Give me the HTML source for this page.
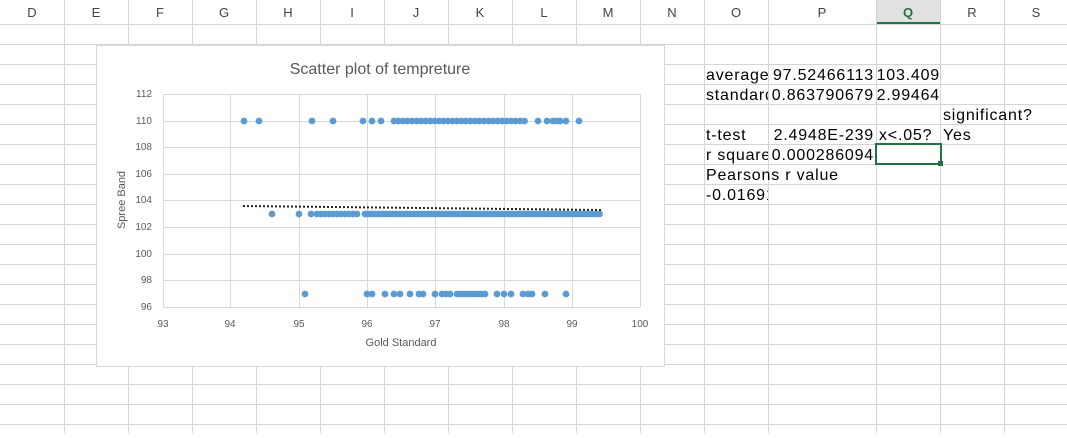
<!DOCTYPE html>
<html><head><meta charset="utf-8"><style>
body{margin:0;background:#fff;width:1067px;height:433px;overflow:hidden;font-family:"Liberation Sans",Arial,sans-serif}
</style></head><body>
<svg width="1067" height="433" xmlns="http://www.w3.org/2000/svg" font-family="Liberation Sans, Arial, sans-serif">
<rect width="1067" height="433" fill="#fff"/>
<rect x="876" y="0" width="65" height="24" fill="#e1e1e1"/>
<line x1="876" y1="23" x2="941" y2="23" stroke="#217346" stroke-width="2"/>
<g stroke="#d4d4d4" stroke-width="1">
<line x1="0" y1="24.5" x2="1067" y2="24.5"/>
<line x1="0" y1="44.5" x2="1067" y2="44.5"/><line x1="0" y1="64.5" x2="1067" y2="64.5"/>
<line x1="0" y1="84.5" x2="1067" y2="84.5"/><line x1="0" y1="104.5" x2="1067" y2="104.5"/>
<line x1="0" y1="124.5" x2="1067" y2="124.5"/><line x1="0" y1="144.5" x2="1067" y2="144.5"/>
<line x1="0" y1="164.5" x2="1067" y2="164.5"/><line x1="0" y1="184.5" x2="1067" y2="184.5"/>
<line x1="0" y1="204.5" x2="1067" y2="204.5"/><line x1="0" y1="224.5" x2="1067" y2="224.5"/>
<line x1="0" y1="244.5" x2="1067" y2="244.5"/><line x1="0" y1="264.5" x2="1067" y2="264.5"/>
<line x1="0" y1="284.5" x2="1067" y2="284.5"/><line x1="0" y1="304.5" x2="1067" y2="304.5"/>
<line x1="0" y1="324.5" x2="1067" y2="324.5"/><line x1="0" y1="344.5" x2="1067" y2="344.5"/>
<line x1="0" y1="364.5" x2="1067" y2="364.5"/><line x1="0" y1="384.5" x2="1067" y2="384.5"/>
<line x1="0" y1="404.5" x2="1067" y2="404.5"/><line x1="0" y1="424.5" x2="1067" y2="424.5"/>
<line x1="64.5" y1="0" x2="64.5" y2="433"/><line x1="128.5" y1="0" x2="128.5" y2="433"/>
<line x1="192.5" y1="0" x2="192.5" y2="433"/><line x1="256.5" y1="0" x2="256.5" y2="433"/>
<line x1="320.5" y1="0" x2="320.5" y2="433"/><line x1="384.5" y1="0" x2="384.5" y2="433"/>
<line x1="448.5" y1="0" x2="448.5" y2="433"/><line x1="512.5" y1="0" x2="512.5" y2="433"/>
<line x1="576.5" y1="0" x2="576.5" y2="433"/><line x1="640.5" y1="0" x2="640.5" y2="433"/>
<line x1="704.5" y1="0" x2="704.5" y2="433"/><line x1="768.5" y1="0" x2="768.5" y2="433"/>
<line x1="876.5" y1="0" x2="876.5" y2="433"/><line x1="940.5" y1="0" x2="940.5" y2="433"/>
<line x1="1004.5" y1="0" x2="1004.5" y2="433"/>
</g>
<g font-size="13" fill="#444" text-anchor="middle">
<text x="32" y="17">D</text><text x="96" y="17">E</text><text x="160" y="17">F</text><text x="224" y="17">G</text>
<text x="288" y="17">H</text><text x="352" y="17">I</text><text x="416" y="17">J</text><text x="480" y="17">K</text>
<text x="544" y="17">L</text><text x="608" y="17">M</text><text x="672" y="17">N</text><text x="736" y="17">O</text>
<text x="822" y="17">P</text><text x="908" y="17" fill="#217346" font-weight="bold">Q</text><text x="972" y="17">R</text><text x="1036" y="17">S</text>
</g>
<g font-size="16" fill="#000" letter-spacing="0.8">
<svg x="706" y="64" width="62" height="20"><text x="0" y="16">averages</text></svg>
<svg x="706" y="84" width="62" height="20"><text x="0" y="16">standard</text></svg>
<svg x="706" y="144" width="62" height="20"><text x="0" y="16">r squared</text></svg>
<text x="874" y="80" text-anchor="end">97.52466113</text>
<text x="940" y="80" text-anchor="end">103.409</text>
<text x="874" y="100" text-anchor="end">0.863790679</text>
<text x="940" y="100" text-anchor="end">2.99464</text>
<text x="943" y="120">significant?</text>
<text x="706" y="140">t-test</text>
<text x="874" y="140" text-anchor="end">2.4948E-239</text>
<text x="879" y="140">x&lt;.05?</text>
<text x="943" y="140">Yes</text>
<text x="874" y="160" text-anchor="end">0.000286094</text>
<text x="706" y="180">Pearsons r value</text>
<svg x="704" y="184" width="64" height="20"><text x="2" y="16">-0.01691</text></svg>
</g>
<rect x="876" y="144" width="65" height="20" fill="none" stroke="#217346" stroke-width="2"/>
<rect x="938" y="161" width="5" height="5" fill="#217346"/>
<rect x="96.5" y="45.5" width="568" height="321" fill="#fff" stroke="#d9d9d9"/>
<text x="380" y="74" text-anchor="middle" font-size="16" fill="#595959">Scatter plot of tempreture</text>
<g stroke="#d9d9d9" stroke-width="1">
<line x1="163" y1="94.5" x2="640" y2="94.5"/><line x1="163" y1="121.5" x2="640" y2="121.5"/>
<line x1="163" y1="147.5" x2="640" y2="147.5"/><line x1="163" y1="174.5" x2="640" y2="174.5"/>
<line x1="163" y1="200.5" x2="640" y2="200.5"/><line x1="163" y1="227.5" x2="640" y2="227.5"/>
<line x1="163" y1="254.5" x2="640" y2="254.5"/><line x1="163" y1="280.5" x2="640" y2="280.5"/>
<line x1="163" y1="307.5" x2="640" y2="307.5"/>
<line x1="163.5" y1="94" x2="163.5" y2="307"/><line x1="230.5" y1="94" x2="230.5" y2="307"/>
<line x1="299.5" y1="94" x2="299.5" y2="307"/><line x1="367.5" y1="94" x2="367.5" y2="307"/>
<line x1="435.5" y1="94" x2="435.5" y2="307"/><line x1="504.5" y1="94" x2="504.5" y2="307"/>
<line x1="572.5" y1="94" x2="572.5" y2="307"/><line x1="640.5" y1="94" x2="640.5" y2="307"/>
</g>
<g font-size="10" fill="#595959" text-anchor="end">
<text x="152" y="97">112</text><text x="152" y="124">110</text><text x="152" y="150">108</text>
<text x="152" y="177">106</text><text x="152" y="203">104</text><text x="152" y="230">102</text>
<text x="152" y="257">100</text><text x="152" y="283">98</text><text x="152" y="310">96</text>
</g>
<g font-size="10" fill="#595959" text-anchor="middle">
<text x="163" y="327">93</text><text x="230" y="327">94</text><text x="299" y="327">95</text>
<text x="367" y="327">96</text><text x="435" y="327">97</text><text x="504" y="327">98</text>
<text x="572" y="327">99</text><text x="640" y="327">100</text>
</g>
<text x="401" y="346" text-anchor="middle" font-size="11" fill="#595959">Gold Standard</text>
<text transform="translate(125,200) rotate(-90)" text-anchor="middle" font-size="11" fill="#595959">Spree Band</text>
<g fill="#5b9bd5" id="dots"></g>
<line x1="243" y1="206" x2="601" y2="210" stroke="#222" stroke-width="2" stroke-dasharray="2,2"/>
</svg>
<script>
(function(){
var g=document.getElementById('dots');var ns='http://www.w3.org/2000/svg';
function add(xs,y){xs.forEach(function(x){var c=document.createElementNS(ns,'circle');c.setAttribute('cx',x);c.setAttribute('cy',y);c.setAttribute('r',3.4);g.appendChild(c);});}
function range(a,b,s){var r=[];for(var x=a;x<=b;x+=s)r.push(x);return r;}
add([244,259,312,333,363,372,381].concat(range(394,525,4.5),[538,547,553,557,560,566,579]),121);
add([272,299,311].concat(range(317,357,4),range(365,602,3.5)),214);
add([305,367,372,385,394,400,410,419,423,435,442,446,450].concat(range(457,485,3.5),[497,504,511,523,528,532,545,566]),294);
})();
</script>
</body></html>
